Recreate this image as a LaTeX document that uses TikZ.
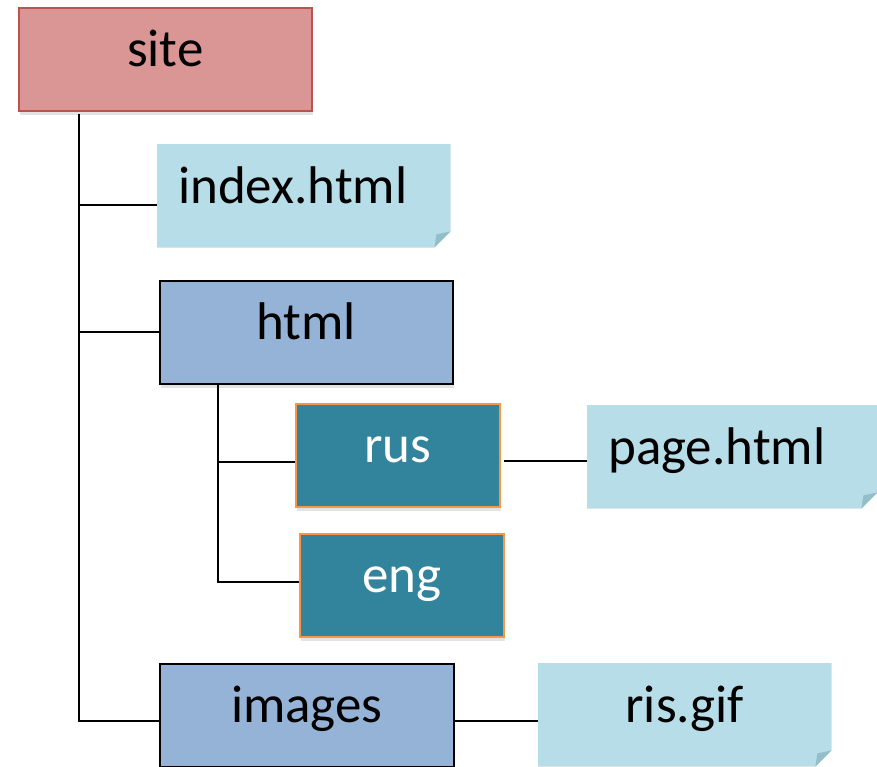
\documentclass[tikz,border=0pt]{standalone}
\usepackage{fontspec}
\setmainfont{Carlito}
\usetikzlibrary{positioning,shadows,backgrounds}

\definecolor{siteRed}{HTML}{D99694}
\definecolor{siteEdge}{HTML}{C0504D}
\definecolor{dirBlue}{HTML}{95B3D7}
\definecolor{subTeal}{HTML}{31849B}
\definecolor{subEdge}{HTML}{F79646}
\definecolor{fileBlue}{HTML}{B7DDE8}
\definecolor{foldBlue}{HTML}{93BFCB}

\begin{document}
\begin{tikzpicture}
[x=1pt,y=-1pt,
every node/.style={font=\fontsize{53}{58}\selectfont,text height=31pt,text depth=16pt,inner sep=0pt,anchor=north west},
box/.style={draw,line width=1.5pt,minimum width=293pt,minimum height=103pt,
  drop shadow={shadow xshift=1pt,shadow yshift=-4pt,opacity=0.22}},
sitebox/.style={box,fill=siteRed,draw=siteEdge},
dirbox/.style={box,fill=dirBlue,draw=black},
subbox/.style={box,fill=subTeal,draw=subEdge,text=white,minimum width=204pt},
filebox/.style={minimum height=103pt,inner xsep=21pt,text width=251pt},
wire/.style={line width=1.6pt,black}]
\useasboundingbox (0,0) rectangle (877,766);
\node (site) [sitebox] at (18,7) {site};
\node (index) [filebox,align=left] at (157,144) {index.html};
\node (html) [dirbox] at (159,280) {html};
\node (rus) [subbox] at (295,403) {rus};
\node (eng) [subbox] at (299,533) {eng};
\node (page) [filebox,align=left,text width=248pt] at (587,405) {page.html};
\node (images) [dirbox,minimum width=294pt] at (159,663) {images};
\node (ris) [filebox,align=center] at (538,663) {ris.gif};
% paper notes with a folded corner
\begin{scope}[on background layer]
\foreach \f in {index,page,ris}{
\fill[black,opacity=0.2,xshift=1pt,yshift=-4pt] (\f.north west) -- (\f.north east) -- ([yshift=16pt]\f.south east)
  -- ([xshift=-16pt]\f.south east) -- (\f.south west) -- cycle;
\fill[fileBlue] (\f.north west) -- (\f.north east) -- ([yshift=16pt]\f.south east)
  -- ([xshift=-16pt]\f.south east) -- (\f.south west) -- cycle;
\fill[foldBlue] ([yshift=16pt]\f.south east) -- ([xshift=-16pt]\f.south east)
  -- ([xshift=-14pt,yshift=13pt]\f.south east) -- cycle;
}
\end{scope}
% tree lines
\coordinate (siteFoot) at ([xshift=61pt,yshift=-2pt]site.south west);
\coordinate (indexIn) at ([yshift=-9pt]index.west);
\coordinate (imagesIn) at ([yshift=-6pt]images.west);
\draw[wire] (siteFoot) |- (imagesIn);
\draw[wire] (siteFoot |- indexIn) -- (indexIn);
\draw[wire] (siteFoot |- html.west) -- (html.west);
\coordinate (htmlFoot) at ([xshift=59pt]html.south west);
\coordinate (rusIn) at ([yshift=-7pt]rus.west);
\coordinate (engIn) at ([yshift=3pt]eng.west);
\draw[wire] (htmlFoot) |- (engIn);
\draw[wire] (htmlFoot |- rusIn) -- (rusIn);
\coordinate (rusOut) at ([xshift=3pt,yshift=-6pt]rus.east);
\draw[wire] (rusOut) -- (rusOut -| page.west);
\coordinate (imagesOut) at ([yshift=-6pt]images.east);
\draw[wire] (imagesOut) -- (imagesOut -| ris.west);
\end{tikzpicture}
\end{document}
